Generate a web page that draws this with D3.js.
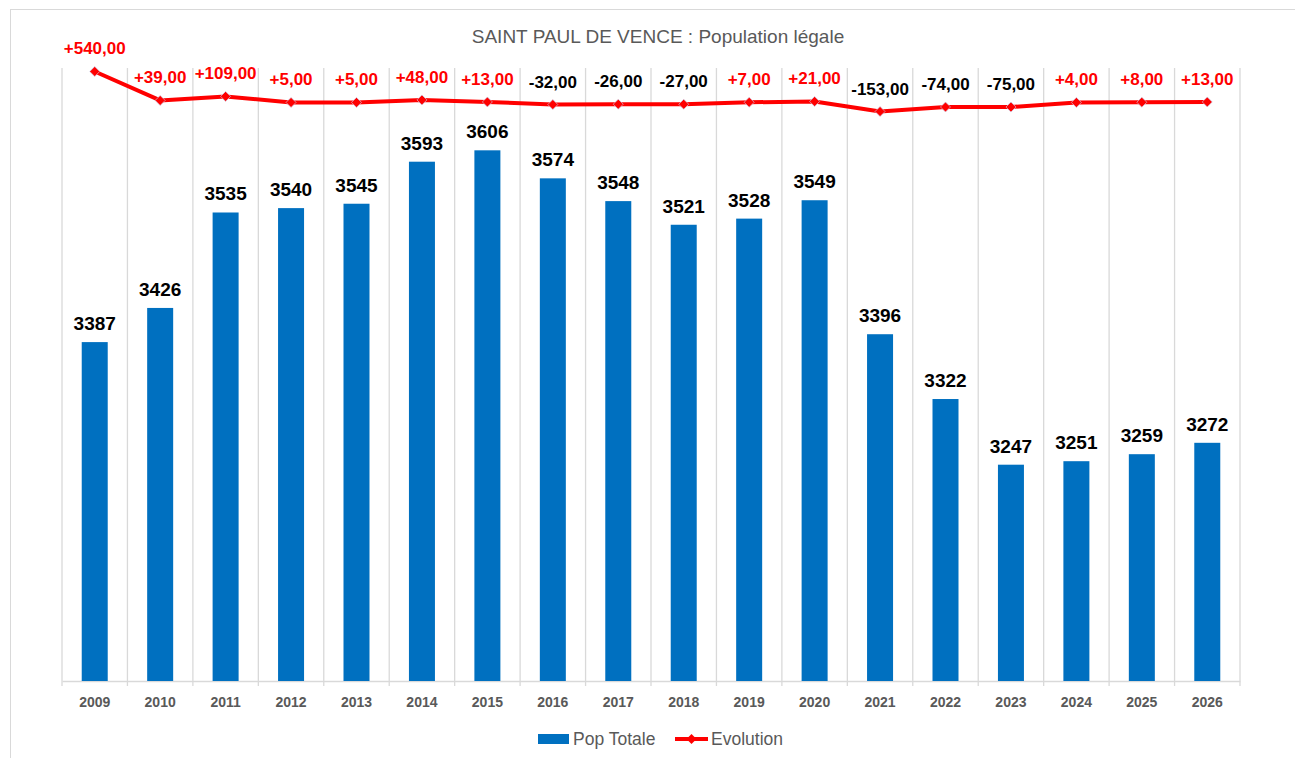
<!DOCTYPE html>
<head>
<meta charset="utf-8">
<style>
body { margin: 0; background: #fff; }
svg text { font-family: "Liberation Sans", Arial, sans-serif; }
</style>
</head>
<body>
<script src="https://cdn.jsdelivr.net/npm/d3@7"></script>
<script>
var years = ["2009", "2010", "2011", "2012", "2013", "2014", "2015", "2016", "2017",
    "2018", "2019", "2020", "2021", "2022", "2023", "2024", "2025", "2026"];
var popTotale = [3387, 3426, 3535, 3540, 3545, 3593, 3606, 3574, 3548,
    3521, 3528, 3549, 3396, 3322, 3247, 3251, 3259, 3272];
var evolution = [540, 39, 109, 5, 5, 48, 13, -32, -26,
    -27, 7, 21, -153, -74, -75, 4, 8, 13];

var width = 1295, height = 758;
var pLeft = 62, pRight = 1240, pTop = 68, pBottom = 681;

var svg = d3.select("body").append("svg")
    .attr("width", width)
    .attr("height", height);

// chart frame
svg.append("rect")
    .attr("x", 10.5).attr("y", 9.5)
    .attr("width", 1300).attr("height", 760)
    .attr("fill", "none")
    .attr("stroke", "#d9d9d9");

var xb = d3.scaleBand().domain(years).range([pLeft, pRight]);
var y = d3.scaleLinear().domain([3000, 3700]).range([pBottom, pTop]);
var y2 = d3.scaleLinear().domain([-10000, 600]).range([pBottom, pTop]);

// vertical gridlines at category edges
var edges = years.map(function (d) { return xb(d); }).concat([pRight]);
svg.selectAll("line.grid").data(edges).enter().append("line")
    .attr("class", "grid")
    .attr("x1", function (d) { return d; })
    .attr("x2", function (d) { return d; })
    .attr("y1", pTop).attr("y2", pBottom + 5)
    .attr("stroke", "#d9d9d9").attr("stroke-width", 1.3);

// x axis
var xAxis = svg.append("g")
    .attr("transform", "translate(0," + pBottom + ")")
    .call(d3.axisBottom(xb).tickSize(0).tickPadding(16));
xAxis.select(".domain").attr("stroke", "#d9d9d9").attr("stroke-width", 1.3);
xAxis.selectAll("text")
    .attr("fill", "#595959")
    .style("font-size", "14px")
    .style("font-weight", "bold");

// bars
var cx = function (d, i) { return xb(years[i]) + xb.bandwidth() / 2; };
svg.selectAll("rect.bar").data(popTotale).enter().append("rect")
    .attr("class", "bar")
    .attr("x", function (d, i) { return cx(d, i) - 13; })
    .attr("width", 26)
    .attr("y", function (d) { return y(d); })
    .attr("height", function (d) { return pBottom - y(d); })
    .attr("fill", "#0070C0");

svg.selectAll("text.barlab").data(popTotale).enter().append("text")
    .attr("class", "barlab")
    .attr("x", cx)
    .attr("y", function (d) { return y(d) - 12; })
    .attr("text-anchor", "middle")
    .style("font-size", "19px")
    .style("font-weight", "bold")
    .attr("fill", "#000")
    .text(function (d) { return d; });

// evolution line
var line = d3.line().x(cx).y(function (d) { return y2(d); });
svg.append("path")
    .datum(evolution)
    .attr("d", line)
    .attr("fill", "none")
    .attr("stroke", "#FF0000")
    .attr("stroke-width", 4)
    .attr("stroke-linejoin", "round");

var diamond = d3.symbol().type(d3.symbolSquare).size(50);
svg.selectAll("path.mk").data(evolution).enter().append("path")
    .attr("class", "mk")
    .attr("d", diamond)
    .attr("transform", function (d, i) { return "translate(" + cx(d, i) + "," + y2(d) + ") rotate(45)"; })
    .attr("fill", "#FF0000")
    .attr("stroke", "#c8d4f0")
    .attr("stroke-width", 0.6);

function fmt(v) {
    var s = Math.abs(v).toFixed(2).replace(".", ",");
    return (v >= 0 ? "+" : "-") + s;
}
svg.selectAll("text.evlab").data(evolution).enter().append("text")
    .attr("class", "evlab")
    .attr("x", cx)
    .attr("y", function (d) { return y2(d) - 17; })
    .attr("text-anchor", "middle")
    .style("font-size", "17px")
    .style("font-weight", "bold")
    .attr("fill", function (d) { return d >= 0 ? "#FF0000" : "#000"; })
    .text(fmt);

// title
svg.append("text")
    .attr("x", 658).attr("y", 43)
    .attr("text-anchor", "middle")
    .style("font-size", "19px")
    .attr("fill", "#595959")
    .text("SAINT PAUL DE VENCE : Population légale");

// legend
var lg = svg.append("g");
lg.append("rect").attr("x", 538).attr("y", 734).attr("width", 31).attr("height", 10).attr("fill", "#0070C0");
lg.append("text").attr("x", 573).attr("y", 745).style("font-size", "17.5px").attr("fill", "#595959").text("Pop Totale");
lg.append("line").attr("x1", 675).attr("x2", 708).attr("y1", 739).attr("y2", 739)
    .attr("stroke", "#FF0000").attr("stroke-width", 4);
lg.append("path").attr("d", diamond).attr("transform", "translate(691.5,739) rotate(45)").attr("fill", "#FF0000");
lg.append("text").attr("x", 711).attr("y", 745).style("font-size", "17.5px").attr("fill", "#595959").text("Evolution");
</script>
</body>
